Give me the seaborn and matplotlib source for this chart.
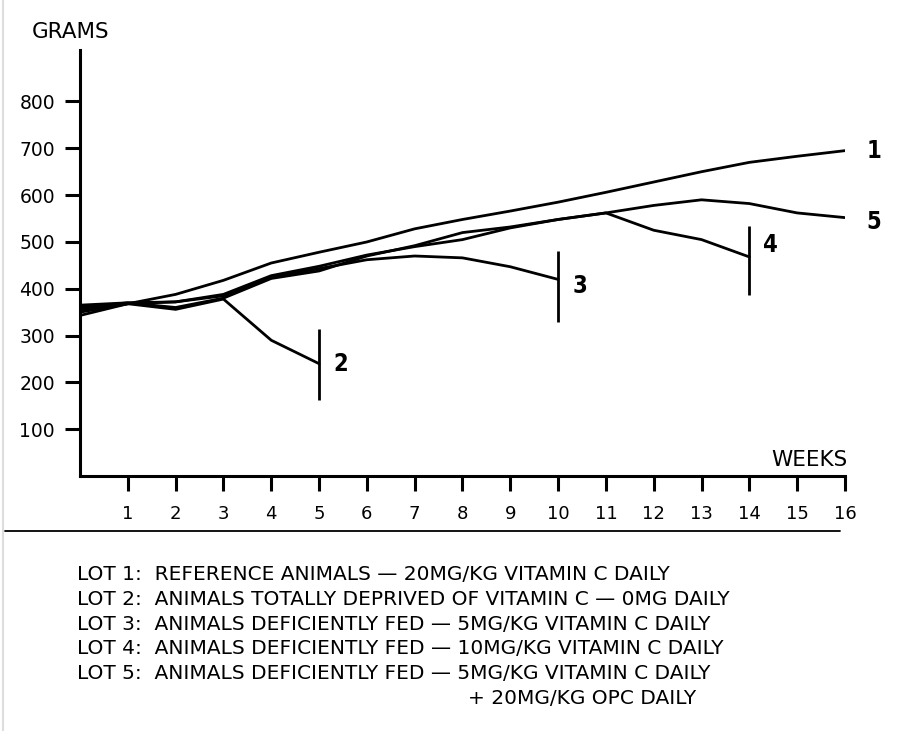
import numpy as np
import pandas as pd
import matplotlib
matplotlib.use("Agg")
import matplotlib.pyplot as plt
import seaborn as sns
from matplotlib.lines import Line2D

# body weight (grams), per week
lot1_weeks = list(range(0, 17))
lot1_grams = [343, 368, 388, 418, 455, 478, 500, 528, 548, 566, 585, 606, 628, 650, 670, 683, 695]
lot2_weeks = list(range(0, 6))
lot2_grams = [355, 368, 356, 378, 290, 240]
lot3_weeks = list(range(0, 11))
lot3_grams = [350, 368, 372, 385, 425, 443, 462, 470, 466, 447, 420]
lot4_weeks = list(range(0, 15))
lot4_grams = [360, 370, 360, 380, 422, 438, 470, 492, 520, 532, 548, 562, 525, 505, 468]
lot5_weeks = list(range(0, 17))
lot5_grams = [365, 370, 372, 388, 428, 448, 472, 490, 505, 530, 548, 562, 578, 590, 582, 562, 552]

# end-of-trial bars for lots 2, 3, 4
bar_weeks = [5, 10, 14]
bar_low = [163, 329, 386]
bar_high = [314, 480, 535]

lot_names = ["1", "2", "3", "4", "5"]
y_ticks = [100, 200, 300, 400, 500, 600, 700, 800]
x_ticks = list(range(1, 17))

legend_lines = [
    "LOT 1:  REFERENCE ANIMALS \u2014 20MG/KG VITAMIN C DAILY",
    "LOT 2:  ANIMALS TOTALLY DEPRIVED OF VITAMIN C \u2014 0MG DAILY",
    "LOT 3:  ANIMALS DEFICIENTLY FED \u2014 5MG/KG VITAMIN C DAILY",
    "LOT 4:  ANIMALS DEFICIENTLY FED \u2014 10MG/KG VITAMIN C DAILY",
    "LOT 5:  ANIMALS DEFICIENTLY FED \u2014 5MG/KG VITAMIN C DAILY",
]
legend_extra = "+ 20MG/KG OPC DAILY"

frames = []
for name, wk, gr in zip(lot_names,
                        [lot1_weeks, lot2_weeks, lot3_weeks, lot4_weeks, lot5_weeks],
                        [lot1_grams, lot2_grams, lot3_grams, lot4_grams, lot5_grams]):
    frames.append(pd.DataFrame({"week": wk, "grams": gr, "lot": name}))
df = pd.concat(frames, ignore_index=True)

sns.set_style("ticks")
plt.rcParams["font.family"] = ["DejaVu Sans"]
plt.rcParams["text.color"] = "black"
plt.rcParams["xtick.color"] = "black"
plt.rcParams["ytick.color"] = "black"
plt.rcParams["axes.edgecolor"] = "black"

fig = plt.figure(figsize=(9.01, 7.31), dpi=100)
ax = fig.add_axes([0.0888, 0.3488, 0.849, 0.5828])

sns.lineplot(data=df, x="week", y="grams", units="lot", estimator=None,
             color="black", linewidth=2.0, ax=ax, legend=False)
ax.vlines(bar_weeks, bar_low, bar_high, color="black", linewidth=2.0)

ax.set_xlim(0, 16)
ax.set_ylim(0, 910)
ax.set_xticks(x_ticks)
ax.set_yticks(y_ticks)
ax.set_xlabel("")
ax.set_ylabel("")
sns.despine(ax=ax)
for s in ["left", "bottom"]:
    ax.spines[s].set_linewidth(2.2)
ax.tick_params(axis="x", length=11, width=2.2, pad=10, labelsize=13)
ax.tick_params(axis="y", length=11, width=2.2, pad=7, labelsize=13.5)

# curve end labels
end_pos = [(16.6, lot1_grams[-1]), (5.45, lot2_grams[-1]), (10.45, lot3_grams[-1] - 15),
           (14.45, lot4_grams[-1] + 25), (16.6, lot5_grams[-1] - 10)]
for name, (xx, yy) in zip(lot_names, end_pos):
    ax.text(xx, yy, name, fontsize=17, fontweight="bold", fontstretch="condensed",
            ha="center", va="center", clip_on=False)

fig.text(71 / 901, 1 - 32 / 731, "GRAMS", fontsize=15.5, ha="center", va="center")
ax.text(16.05, 12, "WEEKS", fontsize=15.5, ha="right", va="bottom")

# separator and caption
fig.add_artist(Line2D([5 / 901, 840 / 901], [1 - 531 / 731] * 2, color="black", linewidth=1.3))
fig.add_artist(Line2D([3 / 901, 3 / 901], [0, 1], color="#dddddd", linewidth=1.5))
for i, line in enumerate(legend_lines):
    fig.text(77 / 901, 1 - (575 + 24.6 * i) / 731, line, fontsize=14.5, ha="left", va="center")
fig.text(468 / 901, 1 - (575 + 24.6 * 5) / 731, legend_extra, fontsize=14.5, ha="left", va="center")

fig.savefig("out.png", dpi=100)
